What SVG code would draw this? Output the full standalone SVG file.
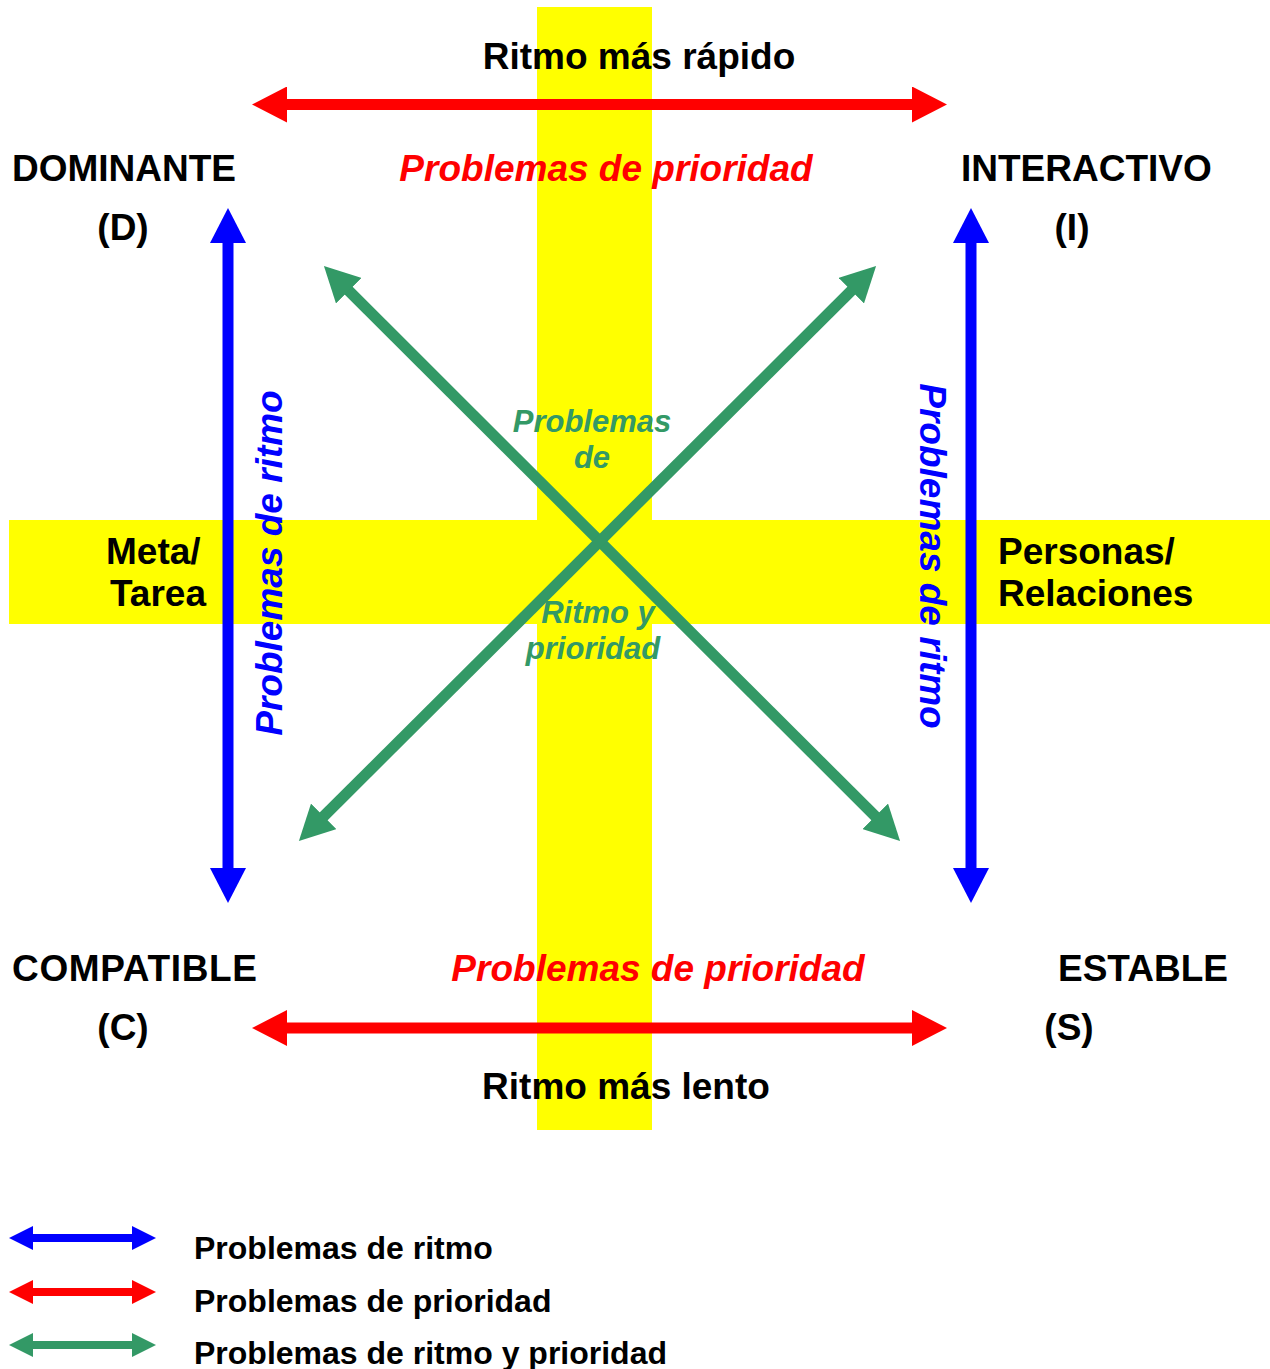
<svg xmlns="http://www.w3.org/2000/svg" width="1270" height="1369" viewBox="0 0 1270 1369">
<style>
text{font-family:"Liberation Sans",Arial,Helvetica,sans-serif;font-weight:bold;}
.lbl{font-size:37px;fill:#000;}
.red{font-size:37px;fill:#FF0000;font-style:italic;}
.blue{font-size:37px;fill:#0000FF;font-style:italic;}
.grn{font-size:31px;fill:#339966;font-style:italic;}
.leg{font-size:32px;fill:#000;}
.a{stroke-width:11;fill:none;}
.s{stroke-width:8;fill:none;}
</style>
<defs>
<marker id="mr" markerUnits="userSpaceOnUse" viewBox="0 0 35 36" markerWidth="35" markerHeight="36" refX="1" refY="18" orient="auto-start-reverse"><path d="M0,0 L35,18 L0,36 z" fill="#FF0000"/></marker>
<marker id="mb" markerUnits="userSpaceOnUse" viewBox="0 0 35 36" markerWidth="35" markerHeight="36" refX="1" refY="18" orient="auto-start-reverse"><path d="M0,0 L35,18 L0,36 z" fill="#0000FF"/></marker>
<marker id="mg" markerUnits="userSpaceOnUse" viewBox="0 0 35 36" markerWidth="35" markerHeight="36" refX="1" refY="18" orient="auto-start-reverse"><path d="M0,0 L35,18 L0,36 z" fill="#339966"/></marker>
<marker id="sr" markerUnits="userSpaceOnUse" viewBox="0 0 24 24" markerWidth="24" markerHeight="24" refX="1" refY="12" orient="auto-start-reverse"><path d="M0,0 L24,12 L0,24 z" fill="#FF0000"/></marker>
<marker id="sb" markerUnits="userSpaceOnUse" viewBox="0 0 24 24" markerWidth="24" markerHeight="24" refX="1" refY="12" orient="auto-start-reverse"><path d="M0,0 L24,12 L0,24 z" fill="#0000FF"/></marker>
<marker id="sg" markerUnits="userSpaceOnUse" viewBox="0 0 24 24" markerWidth="24" markerHeight="24" refX="1" refY="12" orient="auto-start-reverse"><path d="M0,0 L24,12 L0,24 z" fill="#339966"/></marker>
</defs>
<rect width="1270" height="1369" fill="#FFFFFF"/>
<g id="background">
<rect x="537" y="7" width="115" height="1123" fill="#FFFF00"/>
<rect x="9" y="520" width="1261" height="104" fill="#FFFF00"/>
</g>
<g id="connectors">
<line class="a" x1="286" y1="104.5" x2="913" y2="104.5" stroke="#FF0000" marker-start="url(#mr)" marker-end="url(#mr)"/>
<line class="a" x1="286" y1="1028" x2="913" y2="1028" stroke="#FF0000" marker-start="url(#mr)" marker-end="url(#mr)"/>
<line class="a" x1="228" y1="242" x2="228" y2="869" stroke="#0000FF" marker-start="url(#mb)" marker-end="url(#mb)"/>
<line class="a" x1="971" y1="242" x2="971" y2="869" stroke="#0000FF" marker-start="url(#mb)" marker-end="url(#mb)"/>
<line class="a" x1="348" y1="290" x2="876" y2="817" stroke="#339966" marker-start="url(#mg)" marker-end="url(#mg)"/>
<line class="a" x1="852" y1="290" x2="323" y2="817" stroke="#339966" marker-start="url(#mg)" marker-end="url(#mg)"/>
</g>
<g id="top-label"><text class="lbl" x="639" y="69" text-anchor="middle">Ritmo más rápido</text></g>
<g id="bottom-label"><text class="lbl" x="626" y="1099" text-anchor="middle">Ritmo más lento</text></g>
<g id="top-priority"><text class="red" x="606" y="181" text-anchor="middle">Problemas de prioridad</text></g>
<g id="bottom-priority"><text class="red" x="658" y="981" text-anchor="middle">Problemas de prioridad</text></g>
<g id="node-D"><text class="lbl" x="12" y="181">DOMINANTE</text><text class="lbl" x="123" y="240" text-anchor="middle">(D)</text></g>
<g id="node-I"><text class="lbl" x="961" y="181">INTERACTIVO</text><text class="lbl" x="1072" y="240" text-anchor="middle">(I)</text></g>
<g id="node-C"><text class="lbl" x="12" y="981" textLength="245" lengthAdjust="spacing">COMPATIBLE</text><text class="lbl" x="123" y="1040" text-anchor="middle">(C)</text></g>
<g id="node-S"><text class="lbl" x="1058" y="981">ESTABLE</text><text class="lbl" x="1069" y="1040" text-anchor="middle">(S)</text></g>
<g id="meta"><text class="lbl" x="106" y="564">Meta/</text><text class="lbl" x="110" y="606">Tarea</text></g>
<g id="personas"><text class="lbl" x="998" y="564">Personas/</text><text class="lbl" x="998" y="606">Relaciones</text></g>
<g id="left-rhythm"><text class="blue" text-anchor="middle" transform="translate(282,563) rotate(-90)">Problemas de ritmo</text></g>
<g id="right-rhythm"><text class="blue" text-anchor="middle" transform="translate(920,556) rotate(90)">Problemas de ritmo</text></g>
<g id="center-label">
<text class="grn" x="592" y="432" text-anchor="middle">Problemas</text>
<text class="grn" x="592" y="468" text-anchor="middle">de</text>
<text class="grn" x="598" y="623" text-anchor="middle">Ritmo y</text>
<text class="grn" x="593" y="659" text-anchor="middle">prioridad</text>
</g>
<g id="legend">
<line class="s" x1="32" y1="1238" x2="133" y2="1238" stroke="#0000FF" marker-start="url(#sb)" marker-end="url(#sb)"/>
<line class="s" x1="32" y1="1292" x2="133" y2="1292" stroke="#FF0000" marker-start="url(#sr)" marker-end="url(#sr)"/>
<line class="s" x1="32" y1="1345" x2="133" y2="1345" stroke="#339966" marker-start="url(#sg)" marker-end="url(#sg)"/>
<text class="leg" x="194" y="1259">Problemas de ritmo</text>
<text class="leg" x="194" y="1312">Problemas de prioridad</text>
<text class="leg" x="194" y="1364">Problemas de ritmo y prioridad</text>
</g>
</svg>
